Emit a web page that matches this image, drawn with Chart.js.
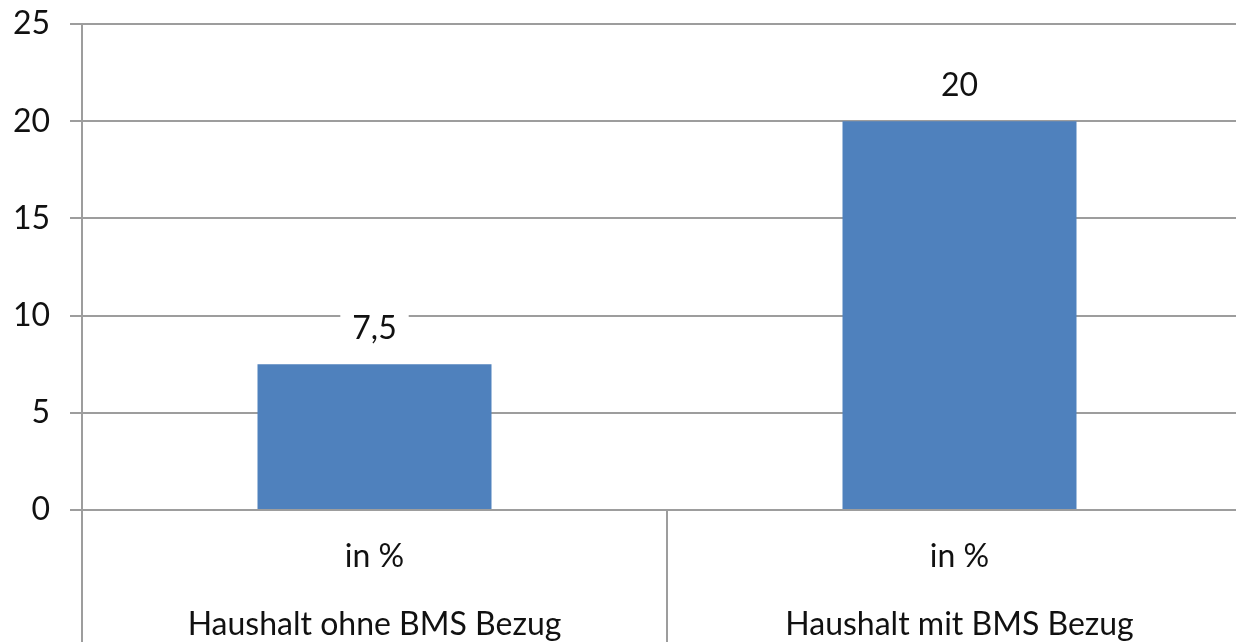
<!DOCTYPE html>
<html>
<head>
<meta charset="utf-8">
<script src="https://cdn.jsdelivr.net/npm/chart.js@4/dist/chart.umd.min.js"></script>
<style>
    html, body { margin: 0; padding: 0; background: #fff; overflow: hidden; }
    #wrap { width: 1236px; height: 642px; overflow: hidden; }
</style>
</head>
<body>
<div id="wrap"><canvas id="bmsChart" width="1252" height="642"></canvas></div>
<script>
const unitLabels = ['in %', 'in %'];
const groupLabels = ['Haushalt ohne BMS Bezug', 'Haushalt mit BMS Bezug'];
const anteil = [7.5, 20];
const yMin = 0;
const yMax = 25;
const yStep = 5;

const gridColor = '#9d9d9d';
const textColor = '#111111';
const fontFamily = "Lato, 'Open Sans', sans-serif";
const fontSize = 32;

// Wert über dem Balken, mit weißem Kasten über der Gitterlinie
const valueLabels = {
    id: 'valueLabels',
    afterDatasetsDraw(chart) {
        const ctx = chart.ctx;
        const meta = chart.getDatasetMeta(0);
        ctx.save();
        ctx.font = fontSize + 'px ' + fontFamily;
        ctx.textAlign = 'center';
        ctx.textBaseline = 'middle';
        meta.data.forEach((bar, i) => {
            const text = anteil[i].toLocaleString('de-DE');
            const w = ctx.measureText(text).width + 24;
            const y = bar.y - 36;
            ctx.fillStyle = '#ffffff';
            ctx.fillRect(bar.x - w / 2, y - 18, w, 36);
            ctx.fillStyle = textColor;
            ctx.fillText(text, bar.x, y);
        });
        ctx.restore();
    }
};

new Chart(document.getElementById('bmsChart'), {
    type: 'bar',
    data: {
        labels: unitLabels.map((u, i) => [u, groupLabels[i]]),
        datasets: [{
            data: anteil,
            backgroundColor: '#4f81bd',
            borderWidth: 0,
            barPercentage: 0.4,
            categoryPercentage: 1
        }]
    },
    options: {
        responsive: false,
        animation: false,
        layout: { padding: { top: 24, right: 0, left: 0, bottom: 0 } },
        plugins: {
            legend: { display: false },
            tooltip: { enabled: false }
        },
        scales: {
            x: {
                afterFit: scale => {
                    scale.height = 132;
                    scale.paddingLeft = 0;
                    scale.paddingRight = 0;
                },
                border: { display: true, color: gridColor, width: 2 },
                grid: {
                    offset: true,
                    drawOnChartArea: false,
                    drawTicks: true,
                    tickLength: 132,
                    color: gridColor,
                    lineWidth: 2
                },
                ticks: {
                    color: textColor,
                    font: { family: fontFamily, size: fontSize, lineHeight: 68 / fontSize },
                    padding: -119.5,
                    maxRotation: 0
                }
            },
            y: {
                min: yMin,
                max: yMax,
                afterFit: scale => {
                    scale.width = 82;
                    scale.paddingTop = 0;
                    scale.paddingBottom = 0;
                },
                border: { display: true, color: gridColor, width: 2 },
                grid: {
                    color: gridColor,
                    lineWidth: 2,
                    drawTicks: true,
                    tickLength: 12
                },
                ticks: {
                    stepSize: yStep,
                    color: textColor,
                    padding: 20,
                    font: { family: fontFamily, size: fontSize }
                }
            }
        }
    },
    plugins: [valueLabels]
});
</script>
</body>
</html>
